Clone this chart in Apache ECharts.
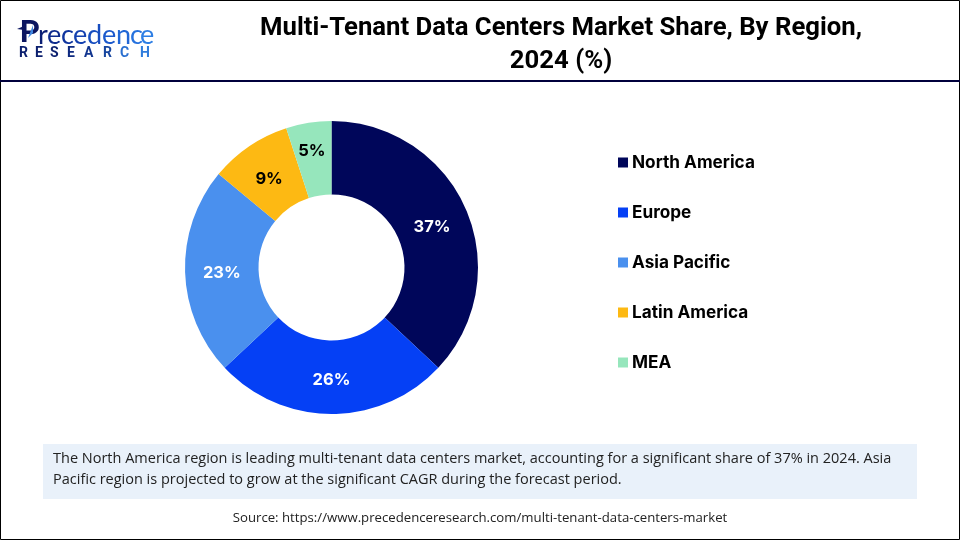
<!DOCTYPE html>
<html lang="en">
<head>
    <meta charset="UTF-8">
    <title>Multi-Tenant Data Centers Market Share</title>
    <style>
        html,body{margin:0;padding:0;background:#fff;}
        #main{width:960px;height:540px;}
    </style>
</head>
<body>
<div id="main"></div>
<script src="https://cdn.jsdelivr.net/npm/echarts@6/dist/echarts.min.js"></script>
<script>
    // data
    const regions = ['North America', 'Europe', 'Asia Pacific', 'Latin America', 'MEA'];
    const shares = [37, 26, 23, 9, 5];
    const colors = ['#00065a', '#0540f5', '#4a90ee', '#fdb913', '#96e6bc'];
    const labelColors = ['#ffffff', '#ffffff', '#ffffff', '#000000', '#000000'];

    const titleText = 'Multi-Tenant Data Centers Market Share, By Region,\n2024 (%)';
    const noteLines = [
        'The North America region is leading multi-tenant data centers market, accounting for a significant share of 37% in 2024. Asia',
        'Pacific region is projected to grow at the significant CAGR during the forecast period.'
    ];
    const sourceText = 'Source: https://www.precedenceresearch.com/multi-tenant-data-centers-market';

    const logoWord = 'recedence';
    const logoWordColors = ['#0b1f74', '#0d2a8c', '#10359f', '#1441b0', '#174dbf', '#1b59cc', '#2066d6', '#2672de', '#2d7ee4'];
    const logoSub = 'RESEARCH';
    const logoSubColors = ['#0b1f6e', '#0b1f6e', '#0b1f6e', '#0e2a80', '#12358f', '#17469f', '#2a6fd0', '#2f7cdc'];

    const myChart = echarts.init(document.getElementById('main'));

    // nudges so the pie labels sit where the reference has them
    const labelNudge = [[-3, 4], [0, 0], [3, 2], [1, 5], [-2, -5]];

    // logo is drawn from plain text pieces
    const logoParts = [
        {type: 'text', style: {x: 20, y: 19, text: 'P', fill: '#0b1560', font: 'bold 31px Roboto'}},
        {type: 'polygon', shape: {points: [[17, 29], [24, 26], [24, 30]]}, style: {fill: '#0b1560'}},
        {type: 'polygon', shape: {points: [[33, 25], [33, 33], [28, 38]]}, style: {fill: '#3f86e0'}}
    ];
    const wordX = [38, 47, 61, 73, 87, 102, 116, 130, 140];
    logoWord.split('').forEach((c, i) => {
        logoParts.push({
            type: 'text',
            style: {x: wordX[i], y: 22, text: c, fill: logoWordColors[i], font: '27px Lato'}
        });
    });
    const subX = [19, 35, 50, 67, 84, 103, 120, 140];
    logoSub.split('').forEach((c, i) => {
        logoParts.push({
            type: 'text',
            style: {x: subX[i], y: 46, text: c, fill: logoSubColors[i], font: 'bold 14px Roboto'}
        });
    });

    const option = {
        backgroundColor: '#ffffff',
        animation: false,
        title: {
            text: titleText,
            left: 556,
            top: 7,
            textAlign: 'center',
            textStyle: {
                color: '#000000',
                fontFamily: 'Roboto',
                fontWeight: 'bold',
                fontSize: 25.7,
                lineHeight: 33
            }
        },
        legend: {
            orient: 'vertical',
            left: 613,
            top: 149,
            itemWidth: 10,
            itemHeight: 10,
            itemGap: 33,
            icon: 'rect',
            data: regions,
            textStyle: {
                color: '#000000',
                fontFamily: 'Inter',
                fontWeight: 'bold',
                fontSize: 17.2,
                height: 17,
                lineHeight: 17,
                padding: [0, 0, 0, -1]
            }
        },
        series: [{
            type: 'pie',
            center: [331.5, 267.5],
            radius: [73, 146.5],
            startAngle: 90,
            clockwise: true,
            avoidLabelOverlap: false,
            label: {
                position: 'inside',
                formatter: '{c}%',
                fontFamily: 'Inter',
                fontWeight: 'bold',
                fontSize: 16.5
            },
            labelLine: {show: false},
            labelLayout: (params) => ({
                dx: labelNudge[params.dataIndex][0],
                dy: labelNudge[params.dataIndex][1]
            }),
            itemStyle: {borderWidth: 0},
            emphasis: {disabled: true},
            data: regions.map((name, i) => ({
                name,
                value: shares[i],
                itemStyle: {color: colors[i]},
                label: {color: labelColors[i]}
            }))
        }],
        graphic: [
            {type: 'rect', silent: true, shape: {x: 0.5, y: 0.5, width: 959, height: 539}, style: {fill: 'none', stroke: '#000000', lineWidth: 1}},
            {type: 'rect', silent: true, shape: {x: 0, y: 80, width: 960, height: 2}, style: {fill: '#00003c'}},
            {type: 'rect', silent: true, shape: {x: 43, y: 444, width: 874, height: 55}, style: {fill: '#e9f1fa'}},
            {type: 'text', silent: true, style: {x: 53, y: 451, text: noteLines[0], fill: '#222222', font: '14.5px "Open Sans"'}},
            {type: 'text', silent: true, style: {x: 53, y: 472, text: noteLines[1], fill: '#222222', font: '14.5px "Open Sans"'}},
            {type: 'text', silent: true, style: {x: 480, y: 512, text: sourceText, fill: '#222222', align: 'center', font: '13.2px "Open Sans"'}},
            ...logoParts
        ]
    };

    myChart.setOption(option);
</script>
</body>
</html>
